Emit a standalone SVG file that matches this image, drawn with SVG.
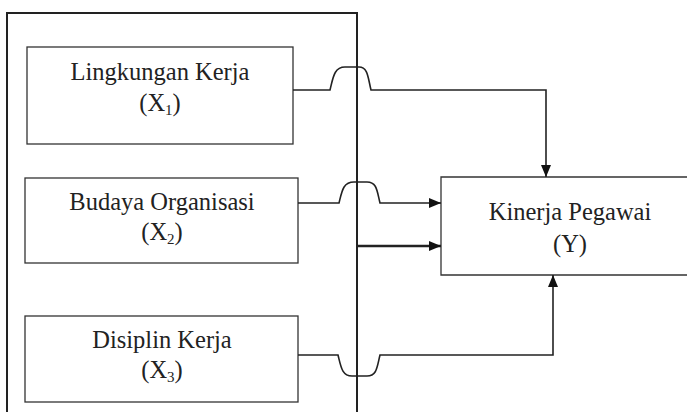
<svg xmlns="http://www.w3.org/2000/svg" width="687" height="412" viewBox="0 0 687 412">
<style>
.box{fill:none;stroke:#333;stroke-width:1.3}
.outer{fill:none;stroke:#222;stroke-width:2}
.t{font-family:"Liberation Serif","Times New Roman",serif;font-size:24.5px;fill:#222;text-anchor:middle}
.sub{font-size:15px}
.c{fill:none;stroke:#222;stroke-width:1.6}
.thick{stroke-width:2.4}
</style>
<defs>
<marker id="ah" viewBox="0 0 12 10" refX="12" refY="5" markerWidth="12" markerHeight="10" markerUnits="userSpaceOnUse" orient="auto">
<path d="M0,0 L12,5 L0,10 Z" fill="#111"/>
</marker>
</defs>
<rect width="687" height="412" fill="#fff"/>
<g id="outer-frame"><path class="outer" d="M7,414 V13 H357 V414"/></g>
<g id="x1">
<rect class="box" x="27" y="47" width="266" height="97"/>
<text class="t" x="160" y="80">Lingkungan Kerja</text>
<text class="t" x="160" y="111">(X<tspan class="sub" dy="4">1</tspan><tspan dy="-4">)</tspan></text>
</g>
<g id="x2">
<rect class="box" x="25" y="178" width="273" height="85"/>
<text class="t" x="162" y="210">Budaya Organisasi</text>
<text class="t" x="162" y="240">(X<tspan class="sub" dy="4">2</tspan><tspan dy="-4">)</tspan></text>
</g>
<g id="x3">
<rect class="box" x="25" y="316" width="273" height="86"/>
<text class="t" x="162" y="348">Disiplin Kerja</text>
<text class="t" x="162" y="378">(X<tspan class="sub" dy="4">3</tspan><tspan dy="-4">)</tspan></text>
</g>
<g id="y">
<path class="box" d="M689,177 H441 V275 H689"/>
<text class="t" x="570" y="220">Kinerja Pegawai</text>
<text class="t" x="570" y="252">(Y)</text>
</g>
<g id="connectors">
<path class="c" d="M293,90 H330 C333,78 334,67 345,67 H359 C368,67 368,78 371,90 H546 V177" marker-end="url(#ah)"/>
<path class="c" d="M298,203 H339 C342,191 343,182 354,182 H367 C377,182 377,191 380,203 H441" marker-end="url(#ah)"/>
<path class="c thick" d="M357,246 H441" marker-end="url(#ah)"/>
<path class="c" d="M298,355 H338 C341,367 342,376 352,376 H367 C377,376 377,367 380,355 H553 V275" marker-end="url(#ah)"/>
</g>
</svg>
